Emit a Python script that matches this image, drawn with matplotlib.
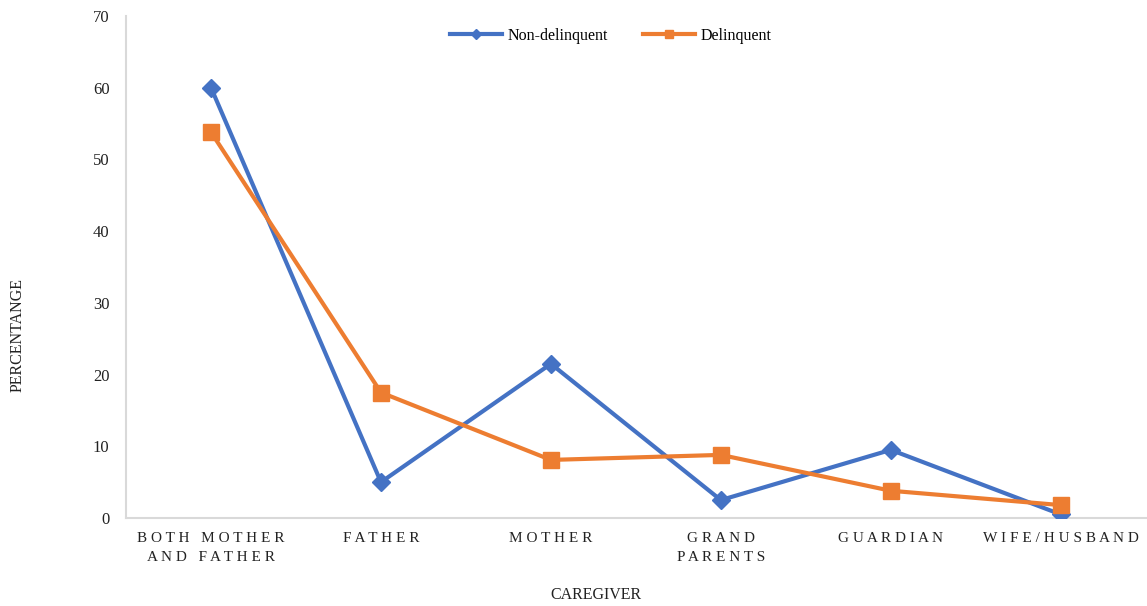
import matplotlib.pyplot as plt
import numpy as np

plt.rcParams['font.family'] = ['Liberation Serif', 'DejaVu Serif']

caregivers = ["BOTH MOTHER\nAND FATHER", "FATHER", "MOTHER", "GRAND\nPARENTS", "GUARDIAN", "WIFE/HUSBAND"]
non_delinquent = [60, 5, 21.5, 2.5, 9.5, 0.5]
delinquent = [53.8, 17.5, 8.1, 8.8, 3.8, 1.8]


def spaced(label):
    # widen the letter spacing of the category labels
    return "\n".join("   ".join(" ".join(w) for w in line.split(" ")) for line in label.split("\n"))


x = np.arange(len(caregivers))
fig = plt.figure(figsize=(11.47, 6.06), dpi=100)
ax = fig.add_axes([0.1099, 0.1452, 0.889, 0.8284])

ax.plot(x, non_delinquent, color='#4472C4', lw=3, marker='D', ms=9.5, label='Non-delinquent', zorder=3)
ax.plot(x, delinquent, color='#ED7D31', lw=3, marker='s', ms=11, label='Delinquent', zorder=3)

ax.set_xlim(-0.5, len(caregivers) - 0.5)
ax.set_ylim(0, 70)
ax.set_yticks(range(0, 71, 10))
ax.set_xticks(x)
ax.set_xticklabels([spaced(c) for c in caregivers], linespacing=1.6)
ax.tick_params(axis='both', length=0, colors='#222222')
ax.tick_params(axis='x', pad=10, labelsize=11)
ax.tick_params(axis='y', pad=12, labelsize=12)

for s in ['top', 'right']:
    ax.spines[s].set_visible(False)
for s in ['left', 'bottom']:
    ax.spines[s].set_color('#D9D9D9')
    ax.spines[s].set_linewidth(1.5)

ax.legend(loc='upper center', bbox_to_anchor=(0.475, 1.005), ncol=2, frameon=False,
          fontsize=11.5, handlelength=3.3, columnspacing=2.2, handletextpad=0.3, markerscale=0.55)

fig.text(596 / 1147, 1 - 595 / 606, 'CAREGIVER', ha='center', va='center', fontsize=11.5, color='#222222')
fig.text(18 / 1147, 1 - 335 / 606, 'PERCENTANGE', ha='center', va='center', rotation=90, fontsize=11.5, color='#222222')

fig.savefig('out.png', dpi=100)
